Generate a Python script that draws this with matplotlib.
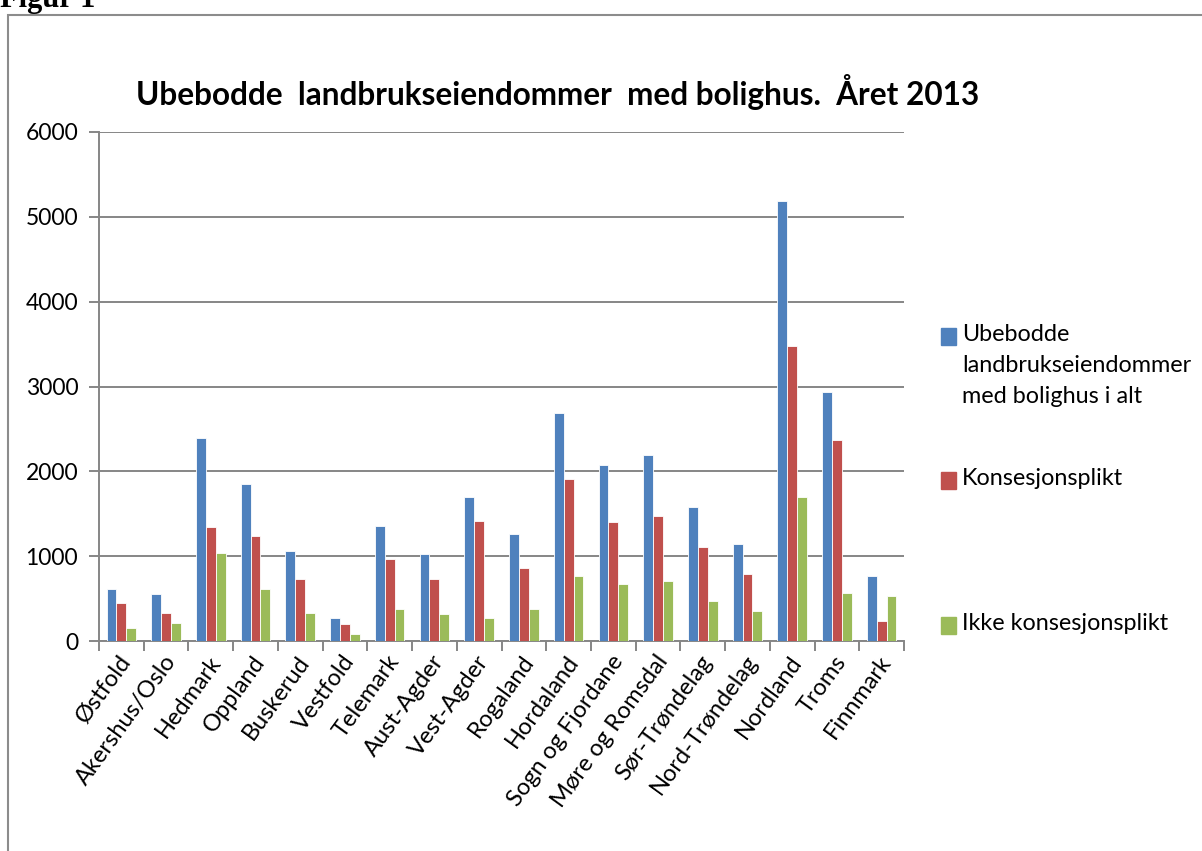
import matplotlib
matplotlib.use('Agg')
import matplotlib.pyplot as plt
import numpy as np
from matplotlib.patches import Rectangle

# Fylker
fylker = ['Østfold', 'Akershus/Oslo', 'Hedmark', 'Oppland', 'Buskerud', 'Vestfold',
          'Telemark', 'Aust-Agder', 'Vest-Agder', 'Rogaland', 'Hordaland',
          'Sogn og Fjordane', 'Møre og Romsdal', 'Sør-Trøndelag', 'Nord-Trøndelag',
          'Nordland', 'Troms', 'Finnmark']

i_alt = [614, 555, 2388, 1853, 1063, 275, 1361, 1027, 1695, 1263, 2683, 2070,
         2191, 1577, 1145, 5190, 2940, 767]
konsesjon = [452, 334, 1341, 1243, 732, 196, 968, 732, 1420, 865, 1912, 1400,
             1479, 1105, 791, 3475, 2373, 236]
ikke_konsesjon = [157, 216, 1042, 614, 334, 78, 373, 314, 275, 373, 771, 673,
                  712, 476, 358, 1700, 570, 531]

serie_navn = ['Ubebodde\nlandbrukseiendommer\nmed bolighus i alt',
              'Konsesjonsplikt', 'Ikke konsesjonsplikt']
farger = ['#4F81BD', '#C0504D', '#9BBB59']

FONT = 'Lato'
GRAA = '#868686'
W, H = 1202, 851
fig = plt.figure(figsize=(W / 100, H / 100), dpi=100)

# ytre ramme
fig.patches.append(Rectangle((8 / W, -0.1), 1.2, 1 - 15 / H + 0.1,
                             transform=fig.transFigure, fill=False,
                             edgecolor='#8c8c8c', linewidth=1.5))
fig.text(0.0, 1 - 7 / H, 'Figur 1', family='Liberation Serif', weight='bold',
         fontsize=22, va='baseline', ha='left')

ax = fig.add_axes([99 / W, 1 - 641 / H, (904 - 99) / W, (641 - 132) / H])

x = np.arange(len(fylker))
bw = 0.22
for i, (vals, c) in enumerate(zip([i_alt, konsesjon, ikke_konsesjon], farger)):
    ax.bar(x + (i - 1) * bw, vals, width=bw, color=c,
           edgecolor='white', linewidth=0.6, zorder=3)

ax.set_xlim(-0.5, len(fylker) - 0.5)
ax.set_ylim(0, 6000)
ax.set_yticks(range(0, 6001, 1000))
ax.yaxis.grid(True, color=GRAA, linewidth=1.4, zorder=0)
ax.set_xticks(x + 0.12)
ax.set_xticklabels(fylker, rotation=54, ha='right', va='center',
                   rotation_mode='anchor', family=FONT, fontsize=17)
ax.set_xticks(np.arange(-0.5, len(fylker)), minor=True)
ax.tick_params(axis='x', which='major', length=0, pad=12)
ax.tick_params(axis='x', which='minor', length=7, color=GRAA, width=1.4)
ax.tick_params(axis='y', length=7, color=GRAA, width=1.4, pad=8)
for lab in ax.get_yticklabels():
    lab.set_family(FONT)
    lab.set_fontsize(16.5)
for s in ['top', 'right']:
    ax.spines[s].set_visible(False)
for s in ['left', 'bottom']:
    ax.spines[s].set_color(GRAA)
    ax.spines[s].set_linewidth(1.4)

fig.text(558 / W, 1 - 92 / H,
         'Ubebodde  landbrukseiendommer  med bolighus.  Året 2013',
         family=FONT, weight='bold', fontsize=22.7, ha='center', va='center')

# legend
leg_y = [328, 472, 617]
for navn, c, ly in zip(serie_navn, farger, leg_y):
    fig.patches.append(Rectangle((941 / W, 1 - (ly + 17) / H), 15 / W, 17 / H,
                                 transform=fig.transFigure, color=c))
    fig.text(962 / W, 1 - (ly - 4) / H, navn, family=FONT, fontsize=16.8,
             va='top', ha='left', linespacing=1.6)

fig.savefig('out.png', dpi=100)
